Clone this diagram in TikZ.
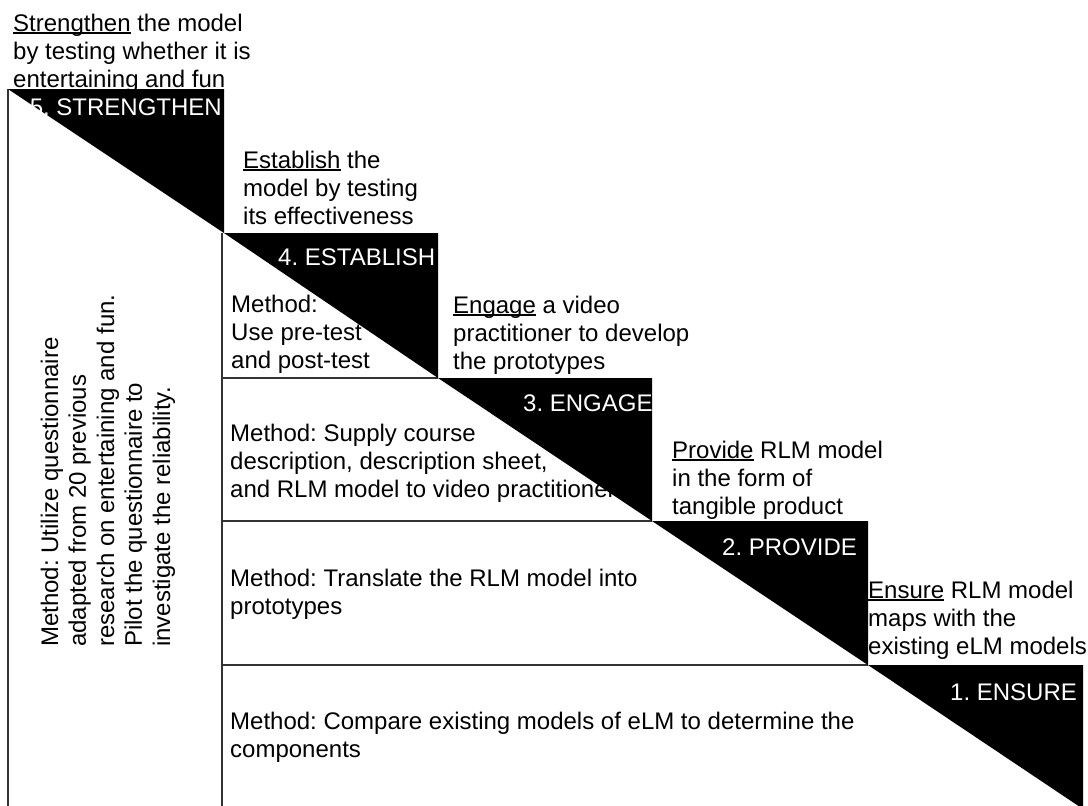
\documentclass[tikz,border=0pt]{standalone}
\usepackage{fontspec}
\setmainfont{Liberation Sans}
\frenchspacing
% underlined keyword with a word-processor style rule
\newcommand\kw[1]{\setbox0\hbox{#1}\rlap{\rule[-2.6pt]{\wd0}{1.4pt}}\box0\relax}
% stacked left-aligned lines; baseline = first line
\newcommand\lines[1]{\begin{tabular}[t]{@{}l@{}}#1\end{tabular}}
\tikzset{
  txt/.style={inner sep=0pt, anchor=base west, font=\fontsize{24}{28}\selectfont, text=black},
  stage/.style={inner sep=0pt, anchor=base west, font=\fontsize{24}{28}\selectfont, text=white},
  frame/.style={draw=black!80, line width=1.3pt},
  wedge/.style={fill=black, draw=none},
}
\begin{document}
\begin{tikzpicture}[x=1pt,y=-1pt]
\useasboundingbox (0,0) rectangle (1088,806);
\clip (0,0) rectangle (1088,806);
\fill[white] (0,0) rectangle (1088,806);

% corners of the staircase
\coordinate (c0) at (8,89);
\coordinate (c1) at (224,233);
\coordinate (c2) at (438,378);
\coordinate (c3) at (652,521);
\coordinate (c4) at (868,665);
\coordinate (c5) at (1083,809);

% column rules
\draw[frame] (c0) -- (8,806);
\draw[frame] (222,233) -- (222,806);
\draw[frame] (222,378) -- (c2);
\draw[frame] (222,521) -- (c3);
\draw[frame] (222,665) -- (c4);

% goals above each step
\node[txt] (g5) at (13,31) {\lines{\kw{Strengthen} the model\\by testing whether it is\\entertaining and fun}};
\node[txt] (g4) at (243,168) {\lines{\kw{Establish} the\\model by testing\\its effectiveness}};
\node[txt] (g3) at (453,313) {\lines{\kw{Engage} a video\\practitioner to develop\\the prototypes}};
\node[txt] (g2) at (672,458) {\lines{\kw{Provide} RLM model\\in the form of\\tangible product}};
\node[txt] (g1) at (868,598) {\lines{\kw{Ensure} RLM model\\maps with the\\existing eLM models}};

% black step wedges
\fill[wedge] (c0) -- (224,89) -- (c1) -- cycle;
\fill[wedge] (c1) -- (438,233) -- (c2) -- cycle;
\fill[wedge] (c2) -- (652,378) -- (c3) -- cycle;
\fill[wedge] (c3) -- (868,521) -- (c4) -- cycle;
\fill[wedge] (c4) -- (1083,665) -- (c5) -- cycle;

% step titles
\node[stage, anchor=base east] (s5) at (222,115) {5. STRENGTHEN};
\node[stage] (s4) at (278,265) {4. ESTABLISH};
\node[stage] (s3) at (523,411) {3. ENGAGE};
\node[stage] (s2) at (722,555) {2. PROVIDE};
\node[stage] (s1) at (950,700) {1. ENSURE};

% methods
\node[txt, rotate=90] (m5) at (58,647) {\lines{Method: Utilize questionnaire\\adapted from 20 previous\\research on entertaining and fun.\\Pilot the questionnaire to\\investigate the reliability.}};
\node[txt] (m4) at (231,312) {\lines{Method:\\Use pre-test\\and post-test}};
\node[txt] (m3) at (230,441) {\lines{Method: Supply course\\description, description sheet,\\and RLM model to video practitioner}};
\node[txt] (m2) at (230,586) {\lines{Method: Translate the RLM model into\\prototypes}};
\node[txt] (m1) at (230,729) {\lines{Method: Compare existing models of eLM to determine the\\components}};
\end{tikzpicture}
\end{document}
